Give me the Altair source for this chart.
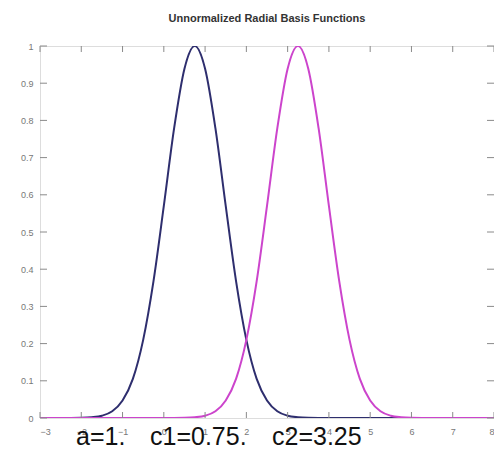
import altair as alt
import pandas as pd

# x positions of the sampled curve points
x_vals = [-3, -2.75, -2.5, -2.25, -2, -1.75, -1.5, -1.25, -1, -0.75, -0.5, -0.25,
          0, 0.25, 0.5, 0.75, 1, 1.25, 1.5, 1.75, 2, 2.25, 2.5, 2.75,
          3, 3.25, 3.5, 3.75, 4, 4.25, 4.5, 4.75, 5, 5.25, 5.5, 5.75,
          6, 6.25, 6.5, 6.75, 7, 7.25, 7.5, 7.75, 8]

# curve 1 (centre c1 = 0.75)
y_c1 = [0, 0, 0, 0.0001, 0.0005, 0.002, 0.006, 0.018, 0.047, 0.105, 0.21, 0.368,
        0.57, 0.779, 0.939, 1.0, 0.939, 0.779, 0.57, 0.368, 0.21, 0.105, 0.047, 0.018,
        0.006, 0.002, 0.0005, 0.0001, 0, 0, 0, 0, 0, 0, 0, 0,
        0, 0, 0, 0, 0, 0, 0, 0, 0]

# curve 2 (centre c2 = 3.25)
y_c2 = [0, 0, 0, 0, 0, 0, 0, 0, 0, 0,
        0, 0, 0, 0.0001, 0.0005, 0.002, 0.006, 0.018, 0.047, 0.105, 0.21, 0.368,
        0.57, 0.779, 0.939, 1.0, 0.939, 0.779, 0.57, 0.368, 0.21, 0.105, 0.047, 0.018,
        0.006, 0.002, 0.0005, 0.0001, 0, 0, 0, 0, 0, 0, 0]

x_ticks = [-3, -2, -1, 0, 1, 2, 3, 4, 5, 6, 7, 8]
y_ticks = [0, 0.1, 0.2, 0.3, 0.4, 0.5, 0.6, 0.7, 0.8, 0.9, 1]

title_text = "Unnormalized Radial Basis Functions"
note_parts = ["a=1.", "c1=0.75.", "c2=3.25"]

W, H = 454, 372
AX = "#8a8a8a"
FONT = "Liberation Sans"

curves = pd.DataFrame({
    "x": x_vals * 2,
    "y": y_c1 + y_c2,
    "series": ["c1"] * len(x_vals) + ["c2"] * len(x_vals),
})

xs = alt.Scale(domain=[-3, 8], nice=False, zero=False)
ys = alt.Scale(domain=[0, 1], nice=False)

xaxis = alt.Axis(values=x_ticks, tickSize=0, domain=False, grid=False, labelFontSize=9,
                 labelColor="#777", labelFont=FONT, labelPadding=9, title=None, format="d",
                 labelOverlap=False)
yaxis = alt.Axis(values=y_ticks, tickSize=0, domain=False, grid=False, labelFontSize=9,
                 labelColor="#777", labelFont=FONT, labelPadding=7, title=None, format=".1~f",
                 labelOverlap=False)

lines = alt.Chart(curves).mark_line(strokeWidth=2, interpolate="monotone", clip=True).encode(
    x=alt.X("x:Q", scale=xs, axis=xaxis),
    y=alt.Y("y:Q", scale=ys, axis=yaxis),
    color=alt.Color("series:N", scale=alt.Scale(domain=["c1", "c2"], range=["#2e2e6e", "#cc44cc"]), legend=None),
    order=alt.Order("series:N"),
)

xt = pd.DataFrame({"t": x_ticks})
yt = pd.DataFrame({"t": y_ticks})

tb = alt.Chart(xt).mark_rule(color=AX, strokeWidth=1).encode(
    x=alt.X("t:Q", scale=xs, axis=xaxis), y=alt.value(H), y2=alt.value(H - 6))
tt = alt.Chart(xt).mark_rule(color=AX, strokeWidth=1).encode(
    x=alt.X("t:Q", scale=xs, axis=xaxis), y=alt.value(0), y2=alt.value(6))
tl = alt.Chart(yt).mark_rule(color=AX, strokeWidth=1).encode(
    y=alt.Y("t:Q", scale=ys, axis=yaxis), x=alt.value(0), x2=alt.value(7))
tr = alt.Chart(yt).mark_rule(color=AX, strokeWidth=1).encode(
    y=alt.Y("t:Q", scale=ys, axis=yaxis), x=alt.value(W), x2=alt.value(W - 7))

note_x = [36, 110, 232]
notes = []
for txt, px in zip(note_parts, note_x):
    notes.append(alt.Chart(pd.DataFrame({"t": [txt]})).mark_text(
        align="left", baseline="alphabetic", fontSize=25, font=FONT, color="#111").encode(
        text="t:N", x=alt.value(px), y=alt.value(H + 27)))

chart = alt.layer(lines, tl, tr, tb, tt, *notes).properties(
    width=W, height=H,
    title=alt.TitleParams(title_text, fontSize=11, fontWeight="bold", color="#333", font=FONT,
                          offset=9, baseline="alphabetic", anchor="middle"),
    autosize=alt.AutoSizeParams(type="none"),
    padding={"left": 32, "top": 38, "right": 0, "bottom": 31},
).configure_view(stroke=AX, strokeWidth=1.5).configure(background="white")

chart.save("out.html", embed_options={"renderer": "svg", "actions": False})
